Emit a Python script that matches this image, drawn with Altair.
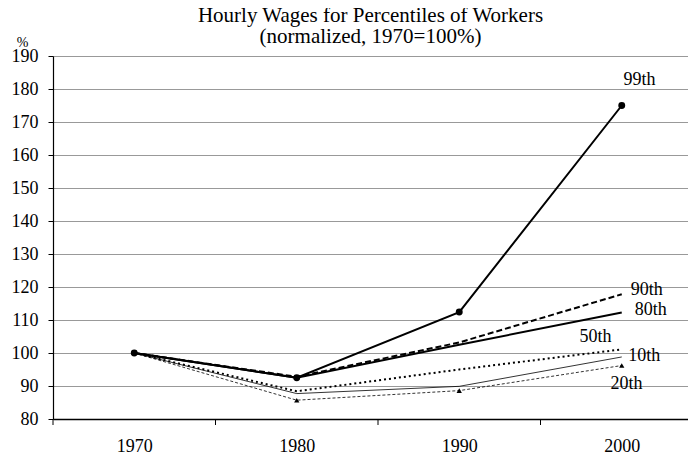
import altair as alt
import pandas as pd

# ---- data ----
years = [1970, 1980, 1990, 2000]
p99 = [100, 92.5, 112.4, 175.0]
p90 = [100, 92.8, 103.2, 117.8]
p80 = [100, 92.5, 102.5, 112.3]
p50 = [100, 88.4, 95.0, 101.1]
p10 = [100, 87.7, 89.9, 98.8]
p20 = [100, 85.7, 88.6, 96.2]

series_names = ["99th", "90th", "80th", "50th", "10th", "20th"]
series_vals = [p99, p90, p80, p50, p10, p20]

# label anchors (data coordinates)
label_x = [2000.1, 2000.55, 2000.8, 1997.4, 2000.4, 1999.3]
label_y = [182.7, 119.1, 113.0, 104.8, 99.2, 90.5]

# category boundaries used for x tick marks
tick_bounds = [1965, 1975, 1985, 1995]
y_ticks = list(range(80, 191, 10))

rows = []
for name, vals in zip(series_names, series_vals):
    for yr, v in zip(years, vals):
        rows.append({"series": name, "year": yr, "value": v})
df = pd.DataFrame(rows)
labels_df = pd.DataFrame({"label": series_names, "lx": label_x, "ly": label_y})
ticks_df = pd.DataFrame({"t": tick_bounds})

FONT = "Times New Roman, Liberation Serif, Times, serif"
W, H = 635, 363
xscale = alt.Scale(domain=[1965, 1965 + W / 16.25], nice=False, zero=False)
yscale = alt.Scale(domain=[80, 190], nice=False, zero=False)

xaxis = alt.Axis(values=years, format="d", ticks=False, grid=False, title=None,
                 domainColor="black", domainWidth=1.5, labelFont=FONT,
                 labelFontSize=18, labelColor="black", labelPadding=18,
                 labelFlush=False)
yaxis = alt.Axis(values=y_ticks, grid=True, gridColor="#999999", gridWidth=1.2,
                 domainColor="black", domainWidth=1.2, tickColor="black",
                 tickSize=5, labelFont=FONT, labelFontSize=18,
                 labelColor="black", labelPadding=10, title="%",
                 titleAngle=0, titleFont=FONT, titleFontSize=14,
                 titleFontWeight="normal", titleX=-31, titleY=-14,
                 titleAlign="center", titleBaseline="middle", titleColor="black")

base = alt.Chart(df)
X = alt.X("year:Q", scale=xscale, axis=xaxis)
Y = alt.Y("value:Q", scale=yscale, axis=yaxis)

styles = {
    "99th": dict(strokeWidth=2),
    "90th": dict(strokeWidth=2, strokeDash=[6, 3]),
    "80th": dict(strokeWidth=2),
    "50th": dict(strokeWidth=2, strokeDash=[2, 3]),
    "10th": dict(strokeWidth=0.8),
    "20th": dict(strokeWidth=0.8, strokeDash=[3, 2]),
}

layers = []
for name in ["20th", "10th", "50th", "80th", "90th", "99th"]:
    layers.append(
        base.transform_filter(alt.datum.series == name)
        .mark_line(color="black", **styles[name])
        .encode(x=X, y=Y)
    )

tri = (base.transform_filter((alt.datum.series == "20th") & (alt.datum.year > 1970))
       .mark_point(shape="triangle-up", filled=True, color="black", size=28, opacity=1)
       .encode(x=X, y=Y))
dots = (base.transform_filter(alt.datum.series == "99th")
        .mark_circle(color="black", size=48, opacity=1)
        .encode(x=X, y=Y))

text = (alt.Chart(labels_df)
        .mark_text(align="left", baseline="middle", font=FONT, fontSize=18, color="black")
        .encode(x=alt.X("lx:Q", scale=xscale, axis=xaxis),
                y=alt.Y("ly:Q", scale=yscale, axis=yaxis),
                text="label:N"))

xticks = (alt.Chart(ticks_df)
          .mark_rule(color="black", strokeWidth=1)
          .encode(x=alt.X("t:Q", scale=xscale, axis=xaxis),
                  y=alt.value(H), y2=alt.value(H + 6)))

chart = alt.layer(*layers, tri, dots, text, xticks).properties(
    width=W, height=H,
    title=alt.TitleParams(
        ["Hourly Wages for Percentiles of Workers", "(normalized, 1970=100%)"],
        font=FONT, fontSize=21, fontWeight="normal", color="black",
        anchor="middle", frame="group", lineHeight=21, offset=-12),
    autosize=alt.AutoSizeParams(type="none"),
    padding={"left": 45, "top": 48, "right": 0, "bottom": 40},
    background="white",
).configure_view(stroke=None)

chart.save("out.html", embed_options={"renderer": "svg", "actions": False})
